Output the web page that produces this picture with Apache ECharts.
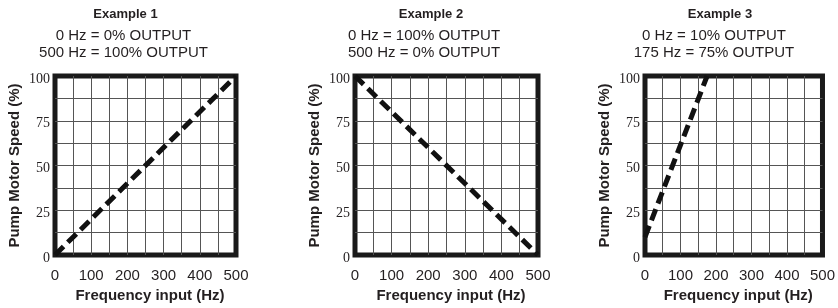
<!DOCTYPE html>
<html lang="en">
<head>
    <meta charset="UTF-8">
    <title>Pump motor speed examples</title>
    <style>
      * { padding: 0; margin: 0; }
      body { background: #fff; }
    </style>
</head>
<body>
    <div id="main" style="width: 838px;height:308px;"></div>
    <script src="https://cdn.jsdelivr.net/npm/echarts@6/dist/echarts.min.js"></script>
    <script>
    // data
    var headings = ['Example 1', 'Example 2', 'Example 3'];
    var subLines = [
        ['0 Hz = 0% OUTPUT', '500 Hz = 100% OUTPUT'],
        ['0 Hz = 100% OUTPUT', '500 Hz = 0% OUTPUT'],
        ['0 Hz = 10% OUTPUT', '175 Hz = 75% OUTPUT']
    ];
    var ex1Freq = [0, 500];
    var ex1Speed = [0, 100];
    var ex2Freq = [0, 500];
    var ex2Speed = [100, 0];
    var ex3Freq = [0, 175];
    var ex3Speed = [10, 100];
    var xTicks = [0, 100, 200, 300, 400, 500];
    var yTicks = [0, 25, 50, 75, 100];

    var ink = '#231f20';
    var sans = '"Liberation Sans", Arial, sans-serif';
    var serif = '"Liberation Serif", "Times New Roman", serif';

    // layout of the three panels
    var panels = [
        { left: 55, width: 181, head: 125.5, sub: 123.5 },
        { left: 355, width: 183, head: 431, sub: 424 },
        { left: 645, width: 181, head: 720, sub: 714 }
    ];

    function pairs(xs, ys) {
        return xs.map(function (x, i) { return [x, ys[i]]; });
    }
    var lines = [pairs(ex1Freq, ex1Speed), pairs(ex2Freq, ex2Speed), pairs(ex3Freq, ex3Speed)];

    var titles = [], grids = [], xAxes = [], yAxes = [], series = [];
    panels.forEach(function (p, i) {
        titles.push({
            text: headings[i], left: p.head, top: 8, textAlign: 'center', padding: 0,
            textStyle: { fontFamily: sans, fontSize: 13, fontWeight: 'bold', color: ink }
        });
        titles.push({
            text: subLines[i].join('\n'), left: p.sub, top: 27.5, textAlign: 'center', padding: 0,
            textStyle: { fontFamily: sans, fontSize: 15, fontWeight: 'normal', color: ink, lineHeight: 17 }
        });
        grids.push({
            left: p.left, top: 76, width: p.width, height: 179,
            show: true, borderColor: '#1a1a1a', borderWidth: 5, backgroundColor: 'transparent'
        });
        xAxes.push({
            type: 'value', gridIndex: i, min: 0, max: 500, interval: 50,
            name: 'Frequency input (Hz)', nameLocation: 'middle', nameGap: 31,
            nameTextStyle: { fontFamily: sans, fontSize: 15, fontWeight: 'bold', color: ink, padding: [0, 0, 0, 9] },
            axisLine: { show: false }, axisTick: { show: false },
            axisLabel: {
                margin: 13, fontFamily: sans, fontSize: 15, color: ink,
                formatter: function (v) { return xTicks.indexOf(v) >= 0 ? v : ''; }
            },
            splitLine: { show: true, showMinLine: false, showMaxLine: false, lineStyle: { color: '#555', width: 1 } }
        });
        yAxes.push({
            type: 'value', gridIndex: i, min: 0, max: 100, interval: 12.5,
            name: 'Pump Motor Speed (%)', nameLocation: 'middle', nameGap: 33,
            nameTextStyle: { fontFamily: sans, fontSize: 15, fontWeight: 'bold', color: ink },
            axisLine: { show: false }, axisTick: { show: false },
            axisLabel: {
                margin: 5, fontFamily: serif, fontSize: 14, color: ink,
                verticalAlign: 'top', lineHeight: 6,
                formatter: function (v) { return yTicks.indexOf(v) >= 0 ? v : ''; }
            },
            splitLine: { show: true, showMinLine: false, showMaxLine: false, lineStyle: { color: '#555', width: 1 } }
        });
        series.push({
            type: 'line', xAxisIndex: i, yAxisIndex: i, data: lines[i],
            symbol: 'none', silent: true, z: 5,
            lineStyle: { color: '#111', width: 5, type: [12, 6], cap: 'butt' }
        });
    });

    var option = {
        animation: false,
        title: titles,
        grid: grids,
        xAxis: xAxes,
        yAxis: yAxes,
        series: series
    };

    var myChart = echarts.init(document.getElementById('main'));
    myChart.setOption(option);
    </script>
</body>
</html>
